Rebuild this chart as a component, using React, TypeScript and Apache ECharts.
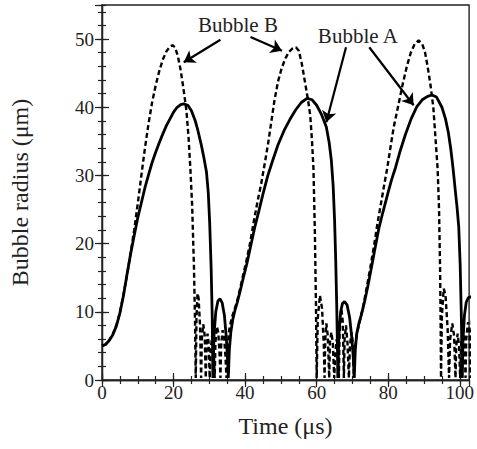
import React, { useEffect, useRef } from "react";
import * as echarts from "echarts";

const bubbleA: [number, number][] = [
  [0, 5.0], [1, 5.2], [2, 5.8], [3, 6.6], [4, 7.9], [5, 9.8], [6, 12.4], [7, 15.5], [8, 18.5], [9, 21.2],
  [10, 23.8], [11, 26.0], [12, 28.2], [13, 30.1], [14, 31.9], [15, 33.4], [16, 34.8], [17, 36.1], [18, 37.3],
  [19, 38.3], [20, 39.3], [21, 40.0], [22, 40.4], [22.8, 40.5], [24, 40.3], [25, 39.5], [26, 38.1], [26.8, 36.6],
  [27.7, 34.6], [28.4, 32.8], [29.2, 30.5], [29.7, 27.5], [30.1, 23.0], [30.5, 16.5], [30.8, 9.5], [31.0, 0.3],
  [31.3, 6.5], [31.8, 10.0], [32.4, 11.6], [33.0, 11.9], [33.6, 11.3], [34.2, 9.5], [34.7, 6.5], [35.1, 3.0], [35.3, 0.3],
  [35.6, 4.5], [36.0, 7.0], [36.6, 9.0], [37.2, 10.3], [37.8, 11.4], [38.5, 12.8], [39.5, 15.0], [40.5, 17.1],
  [41.5, 19.5], [42.7, 22.4], [43.8, 24.7], [45, 27.3], [46.3, 29.9], [47.7, 32.2], [49.2, 34.5], [50.9, 36.6],
  [52.5, 38.2], [54.1, 39.6], [55.7, 40.7], [57.3, 41.3], [58.7, 41.1], [60, 40.3], [61.3, 39.0], [62.7, 37.1],
  [63.5, 34.8], [64.1, 32.2], [64.6, 28.5], [65.0, 23.5], [65.3, 18.0], [65.6, 11.0], [65.8, 5.0], [65.9, 0.3],
  [66.2, 6.5], [66.7, 10.0], [67.2, 11.2], [67.8, 11.5], [68.5, 11.0], [69.2, 9.2], [69.8, 6.3], [70.2, 3.5], [70.5, 0.3],
  [70.8, 4.5], [71.2, 6.8], [71.8, 8.3], [72.5, 9.6], [73.3, 11.3], [74.2, 13.5], [75.2, 16.2], [76.3, 19.3],
  [77.4, 22.3], [78.5, 24.6], [80, 27.6], [81, 29.5], [82, 31.1], [83.4, 33.7], [84.8, 36.0], [86.4, 38.3],
  [88, 40.1], [89.5, 41.1], [91, 41.6], [92.2, 41.8], [93.5, 41.5], [95, 40.0], [96, 38.3], [96.8, 36.3],
  [97.5, 33.8], [98.1, 31.1], [98.7, 28.0], [99.2, 25.5], [99.7, 22.5], [100.1, 17.0], [100.4, 10.0], [100.6, 4.0], [100.7, 0.3],
  [100.9, 6.0], [101.3, 9.5], [101.8, 11.4], [102.4, 12.1], [103.0, 12.2], [103.6, 12.0],
];

const bubbleB: [number, number][] = [
  [0, 5.0], [1, 5.2], [2, 5.8], [3, 6.7], [4, 8.0], [5, 9.9], [6, 12.5], [7, 15.4], [8, 18.6], [9, 22.0],
  [10, 25.9], [11, 30.0], [12, 34.0], [13, 37.6], [14, 40.7], [15, 43.2], [16, 45.3], [17, 47.0], [18, 48.2],
  [19, 48.9], [19.7, 49.1], [20.4, 48.8], [21.2, 47.5], [22, 45.4], [22.8, 42.6], [23.6, 39.5], [24.2, 35.5],
  [24.7, 31.0], [25.2, 25.5], [25.7, 16.6], [26.0, 8.5], [26.2, 0.3],
  [26.4, 9.0], [26.7, 12.7], [27.0, 12.0], [27.4, 8.0], [27.7, 0.3], [27.9, 6.0], [28.3, 8.2], [28.7, 6.5], [29.0, 0.3],
  [29.2, 5.0], [29.5, 6.8], [29.8, 5.5], [30.1, 0.3], [30.4, 4.5], [30.8, 6.5], [31.2, 5.0], [31.5, 0.3],
  [31.7, 5.5], [32.1, 7.8], [32.5, 7.0], [32.9, 3.5], [33.1, 0.3], [33.3, 5.0], [33.7, 7.3], [34.1, 6.5], [34.5, 3.5], [34.8, 0.3],
  [35.1, 5.0], [35.6, 7.5], [36.2, 9.0], [37, 10.3], [37.8, 11.6], [38.5, 13.2], [39.5, 15.5], [40.5, 17.8],
  [41.5, 20.4], [42.3, 22.9], [43.4, 26.0], [44.5, 28.8], [45.5, 31.8], [46.4, 34.6], [47.3, 37.8], [48.2, 41.0],
  [49.2, 43.8], [50.2, 45.7], [51.2, 47.1], [52.2, 48.1], [53.2, 48.6], [54.2, 48.8], [55.0, 48.3], [55.8, 46.5],
  [56.7, 43.8], [57.6, 41.0], [58.2, 38.8], [58.7, 35.0], [59.1, 31.0], [59.5, 21.5], [59.8, 11.0], [60.0, 0.3],
  [60.3, 9.0], [60.9, 12.4], [61.5, 10.5], [62.0, 5.0], [62.2, 0.3], [62.4, 6.0], [62.7, 8.3], [63.1, 6.5], [63.5, 0.3],
  [63.7, 5.5], [64.1, 7.0], [64.5, 5.5], [64.9, 0.3], [65.2, 4.0], [65.6, 6.0], [66.0, 3.0], [66.2, 0.3],
  [66.4, 7.0], [66.9, 10.5], [67.3, 8.5], [67.6, 0.3], [67.8, 6.0], [68.2, 8.0], [68.6, 5.5], [69.0, 0.3],
  [69.3, 5.0], [69.7, 7.0], [70.1, 5.5], [70.4, 0.3],
  [70.7, 4.5], [71.2, 6.7], [72, 8.5], [73, 10.8], [74, 13.6], [75, 16.5], [76, 19.6], [77, 23.0], [78, 26.0],
  [79, 29.0], [79.7, 31.0], [80.5, 33.7], [81.5, 37.0], [82.9, 40.5], [84, 43.3], [85.2, 46.0], [86.3, 48.0],
  [87.4, 49.3], [88.5, 49.8], [89.5, 49.3], [90.3, 48.0], [91, 46.0], [91.8, 43.3], [92.6, 40.0], [93.2, 35.5],
  [93.8, 31.0], [94.2, 25.0], [94.5, 16.0], [94.65, 8.0], [94.75, 0.3],
  [95.0, 9.5], [95.5, 13.4], [96.0, 12.5], [96.6, 7.5], [97.0, 0.3], [97.3, 6.0], [97.9, 8.3], [98.4, 6.5], [98.8, 0.3],
  [99.0, 5.0], [99.4, 6.8], [99.8, 5.0], [100.1, 0.3], [100.4, 5.5], [100.9, 7.5], [101.3, 6.0], [101.6, 0.3],
  [101.8, 6.0], [102.3, 8.5], [102.7, 7.0], [103.0, 0.3], [103.2, 6.5], [103.6, 10.5],
];

const arrowsA: [number, number][][] = [
  [[68.2, 48.8], [62.7, 37.8]],
  [[74.7, 48.8], [87.1, 40.3]],
];
const arrowsB: [number, number][][] = [
  [[33.1, 49.9], [22.85, 46.6]],
  [[41.5, 50.3], [50.3, 48.3]],
];
const labelA = { name: "Bubble A", coord: [71.5, 50.5] };
const labelB = { name: "Bubble B", coord: [38.0, 52.1] };

const X_MIN = 0;
const X_MAX = 102.6;
const Y_MIN = 0;
const Y_MAX = 55;

const FONT = "'Liberation Serif', 'Times New Roman', serif";
const TEXT = "#222";
const AX = "#222";

export default function App() {
  const ref = useRef<HTMLDivElement>(null);
  useEffect(() => {
    if (!ref.current) return;
    const chart = echarts.init(ref.current, undefined, { renderer: "svg" });

    const mkX = (pos: "bottom" | "top", interval: number, major: boolean, labels: boolean, name?: string) => ({
      type: "value",
      position: pos,
      min: X_MIN,
      max: X_MAX,
      interval,
      name: name || "",
      nameLocation: "middle",
      nameGap: 34,
      nameTextStyle: { fontFamily: FONT, fontSize: 24, color: TEXT },
      axisLine: { show: major, lineStyle: { color: AX, width: 1.3 } },
      axisTick: { show: true, inside: true, length: major ? 7 : 4, lineStyle: { color: AX, width: 1.2 } },
      axisLabel: { show: labels, fontFamily: FONT, fontSize: 19, color: TEXT, margin: 3, showMaxLabel: false },
      splitLine: { show: false },
    });
    const mkY = (pos: "left" | "right", interval: number, major: boolean, labels: boolean, name?: string) => ({
      type: "value",
      position: pos,
      min: Y_MIN,
      max: Y_MAX,
      interval,
      name: name || "",
      nameLocation: "middle",
      nameGap: 70,
      nameTextStyle: { fontFamily: FONT, fontSize: 24, color: TEXT },
      axisLine: { show: major, lineStyle: { color: AX, width: 1.3 } },
      axisTick: { show: true, inside: true, length: major ? 7 : 4, lineStyle: { color: AX, width: 1.2 } },
      axisLabel: { show: labels, fontFamily: FONT, fontSize: 19, color: TEXT, margin: 8, showMaxLabel: false },
      splitLine: { show: false },
    });

    const arrowStyle = { color: "#000", width: 2.2, type: "solid" };

    chart.setOption({
      animation: false,
      backgroundColor: "#fff",
      grid: {
        left: 100, right: 5.5, top: 5, bottom: 69, containLabel: false,
        show: true, borderColor: AX, borderWidth: 1.4, backgroundColor: "transparent",
      },
      xAxis: [
        mkX("bottom", 20, true, true, "Time (μs)"),
        mkX("bottom", 5, false, false),
        mkX("top", 20, true, false),
        mkX("top", 5, false, false),
      ],
      yAxis: [
        mkY("left", 10, true, true, "Bubble radius (μm)"),
        mkY("left", 2, false, false),
        mkY("right", 10, true, false),
        mkY("right", 2, false, false),
      ],
      series: [
        {
          name: "Bubble B",
          type: "line",
          data: bubbleB,
          showSymbol: false,
          symbol: "none",
          clip: true,
          lineStyle: { color: "#000", width: 2.4, type: [5, 3] },
          z: 3,
          markLine: {
            silent: true,
            symbol: ["none", "arrow"],
            symbolSize: 11,
            label: { show: false },
            lineStyle: arrowStyle,
            data: arrowsB.map(([a, b]) => [{ coord: a }, { coord: b }]),
          },
          markPoint: {
            silent: true,
            data: [
              {
                name: labelB.name,
                coord: labelB.coord,
                symbol: "circle",
                symbolSize: 0,
                itemStyle: { color: "transparent" },
                label: { show: true, formatter: labelB.name, fontFamily: FONT, fontSize: 21, color: TEXT, position: "inside" },
              },
            ],
          },
        },
        {
          name: "Bubble A",
          type: "line",
          data: bubbleA,
          showSymbol: false,
          symbol: "none",
          clip: true,
          lineStyle: { color: "#000", width: 2.8, type: "solid" },
          z: 4,
          markLine: {
            silent: true,
            symbol: ["none", "arrow"],
            symbolSize: 11,
            label: { show: false },
            lineStyle: arrowStyle,
            data: arrowsA.map(([a, b]) => [{ coord: a }, { coord: b }]),
          },
          markPoint: {
            silent: true,
            data: [
              {
                name: labelA.name,
                coord: labelA.coord,
                symbol: "circle",
                symbolSize: 0,
                itemStyle: { color: "transparent" },
                label: { show: true, formatter: labelA.name, fontFamily: FONT, fontSize: 21, color: TEXT, position: "inside" },
              },
            ],
          },
        },
      ],
    });
    return () => chart.dispose();
  }, []);

  return (
    <div
      ref={ref}
      style={{ position: "absolute", left: 0, top: 0, width: 477, height: 449, background: "#fff" }}
    />
  );
}
